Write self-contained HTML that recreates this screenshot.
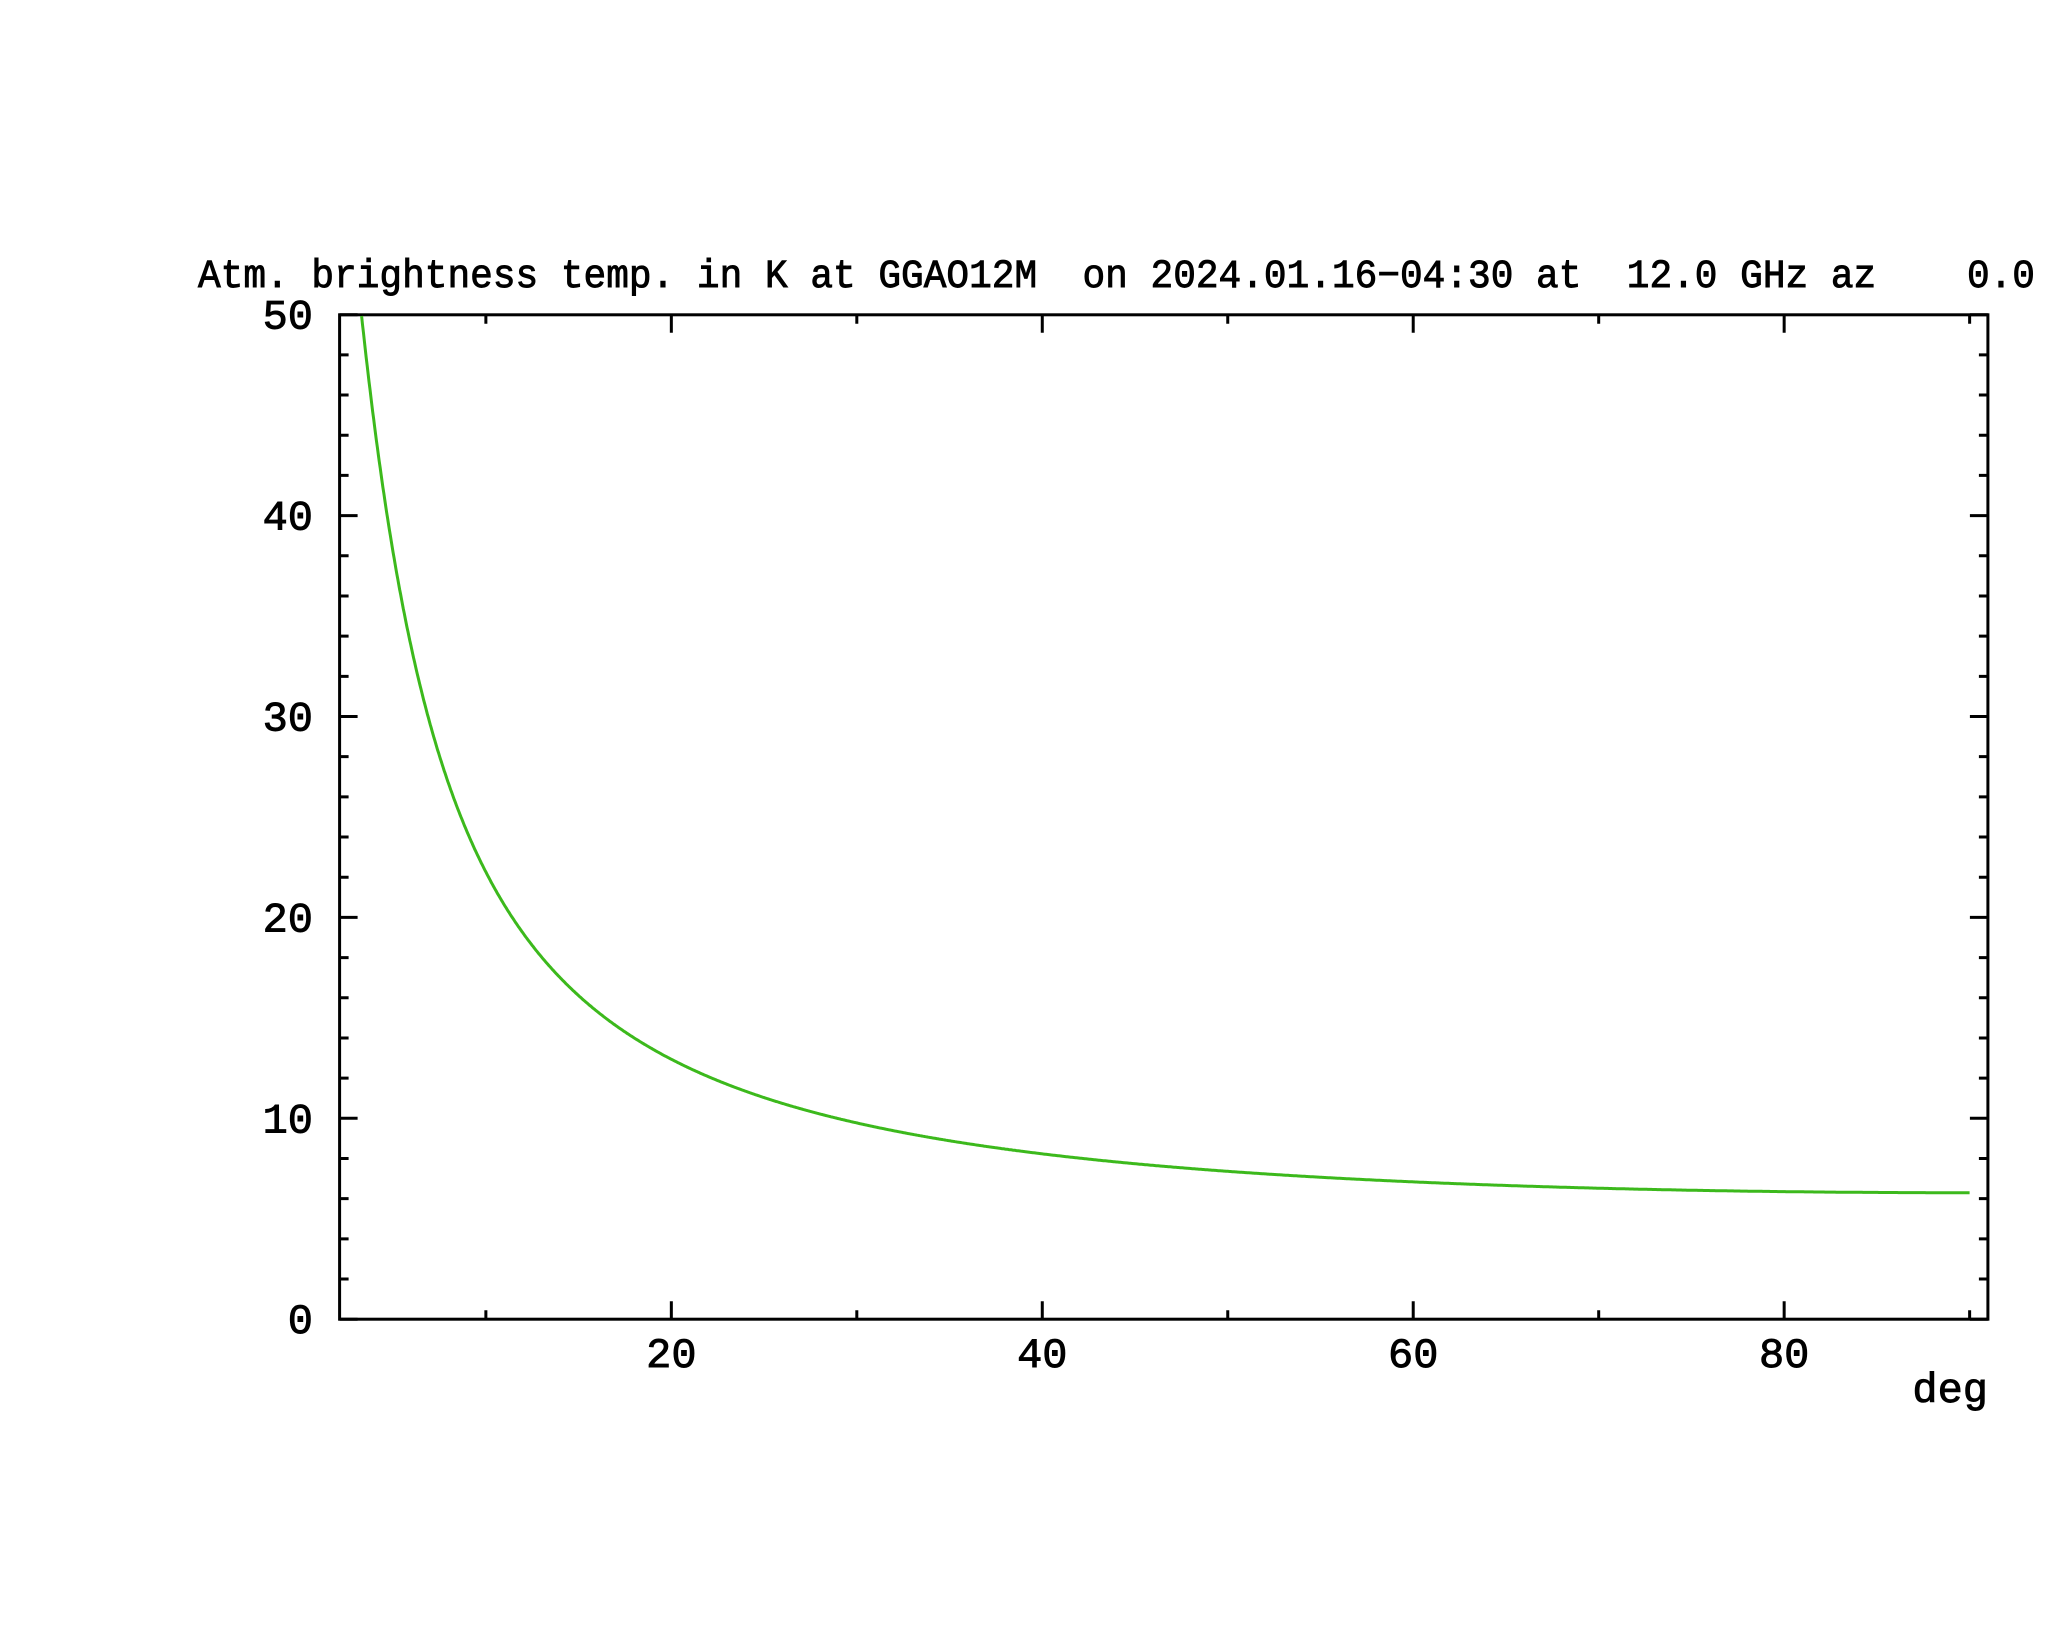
<!DOCTYPE html>
<html><head><meta charset="utf-8"><style>
html,body{margin:0;padding:0;background:#fff;}
svg{display:block;}
text{font-family:"Liberation Mono","DejaVu Sans Mono",monospace;fill:#000;stroke:#000;stroke-width:0.9;}
</style></head><body>
<svg id="s" width="2048" height="1635" viewBox="0 0 2048 1635" xmlns="http://www.w3.org/2000/svg">
<text x="198" y="287" font-size="40" textLength="1837" lengthAdjust="spacingAndGlyphs" xml:space="preserve">Atm. brightness temp. in K at GGAO12M  on 2024.01.16−04:30 at  12.0 GHz az    0.0</text>
<g id="ax" stroke="#000" stroke-width="3" fill="none"></g>
<path id="curve" fill="none" stroke="#3cb91c" stroke-width="3"/>
<g id="lbl" font-size="42"></g>
<text x="1988" y="1402" font-size="42" text-anchor="end">deg</text>
</svg>
<script>
var L=339.6,R=1987.9,T=314.8,B=1319.2,x0=300.4,dx=18.547,dy=20.09;
function X(v){return x0+v*dx;} function Y(v){return B-v*dy;}
var ax=document.getElementById('ax'),lbl=document.getElementById('lbl'),s='';
s+='<rect x="'+L+'" y="'+T+'" width="'+(R-L)+'" height="'+(B-T)+'"/>';
var d='';
for(var v=0;v<=50;v+=2){var y=Y(v),len=(v%10==0)?18:9;
 d+='M'+L+' '+y+'h'+len+'M'+R+' '+y+'h'+(-len);}
for(var v=10;v<=90;v+=10){var x=X(v),len=(v%20==0)?18:9;
 d+='M'+x+' '+B+'v'+(-len)+'M'+x+' '+T+'v'+len;}
s+='<path d="'+d+'"/>';
ax.innerHTML=s;
var t='';
for(var v=0;v<=50;v+=10)t+='<text x="313" y="'+(Y(v)+14)+'" text-anchor="end">'+v+'</text>';
for(var v=20;v<=80;v+=20)t+='<text x="'+X(v)+'" y="1367" text-anchor="middle">'+v+'</text>';
lbl.innerHTML=t;
var p='',e0=3.0;
for(var e=e0;e<=90.0001;e+=0.05){var sn=Math.sin(e*Math.PI/180);
 var val=2.8+3.5/Math.sqrt(sn*sn+0.0022);
 if(val>50)continue;
 p+=(p?'L':'M')+X(e).toFixed(1)+' '+Y(val).toFixed(1);}
document.getElementById('curve').setAttribute('d',p);
</script>
</body></html>
